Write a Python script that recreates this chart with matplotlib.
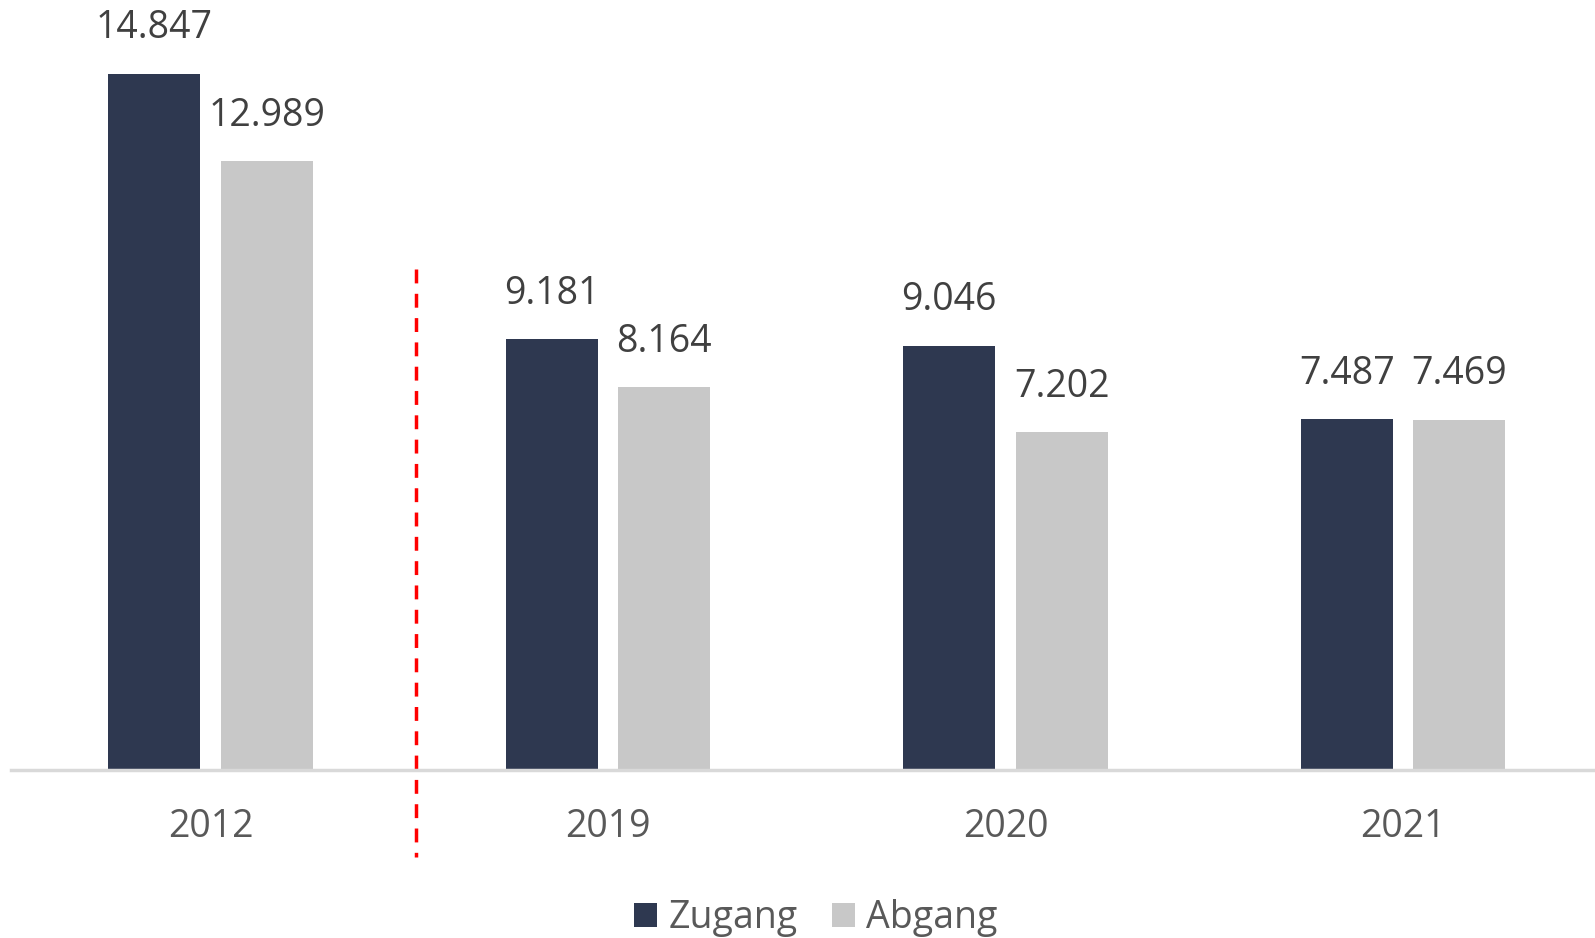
import matplotlib.pyplot as plt
from matplotlib.patches import Patch
import numpy as np

years = ["2012", "2019", "2020", "2021"]
zugang = [14.847, 9.181, 9.046, 7.487]
abgang = [12.989, 8.164, 7.202, 7.469]

DARK = "#2E3850"
LIGHT = "#C8C8C8"
LABEL_COL = "#404040"
TICK_COL = "#595959"

plt.rcParams['font.family'] = ['Open Sans', 'DejaVu Sans']

fig = plt.figure(figsize=(15.95, 9.38), dpi=100)
ax = fig.add_axes([11 / 1595, 168 / 938, 1 - 11 / 1595, 770 / 938])

x = np.arange(len(years))
w = 0.2306
off = 0.1416

b1 = ax.bar(x - off, zugang, w, color=DARK, label="Zugang")
b2 = ax.bar(x + off, abgang, w, color=LIGHT, label="Abgang")

def fmt(v):
    return f"{v:.3f}"

for bars, vals in ((b1, zugang), (b2, abgang)):
    for rect, v in zip(bars, vals):
        ax.annotate(fmt(v), (rect.get_x() + rect.get_width() / 2, v),
                    xytext=(0, 19), textcoords="offset points",
                    ha="center", va="bottom", fontsize=27, color=LABEL_COL)

ax.set_xlim(-0.502, 3.483)
ax.set_ylim(0, 16.42)

# dashed separator between 2012 and later years (drawn top-down)
ax.plot([0.517, 0.517], [10.68, -1.85], color="#FF0000", lw=2.5,
        ls=(0, (4, 3)), clip_on=False)

for s in ["top", "right", "left"]:
    ax.spines[s].set_visible(False)
ax.spines["bottom"].set_color("#D9D9D9")
ax.spines["bottom"].set_linewidth(2.5)
ax.set_yticks([])
ax.set_xticks(x)
ax.set_xticklabels(years, fontsize=27, color=TICK_COL)
ax.tick_params(axis="x", length=0, pad=27)

handles = [Patch(facecolor=DARK, label="Zugang"), Patch(facecolor=LIGHT, label="Abgang")]
fig.legend(handles=handles, loc="center", bbox_to_anchor=(0.5115, 20 / 938),
           ncol=2, frameon=False, fontsize=27, labelcolor=TICK_COL,
           handlelength=0.62, handleheight=0.62, handletextpad=0.3, columnspacing=0.9)

fig.savefig("out.png", dpi=100)
